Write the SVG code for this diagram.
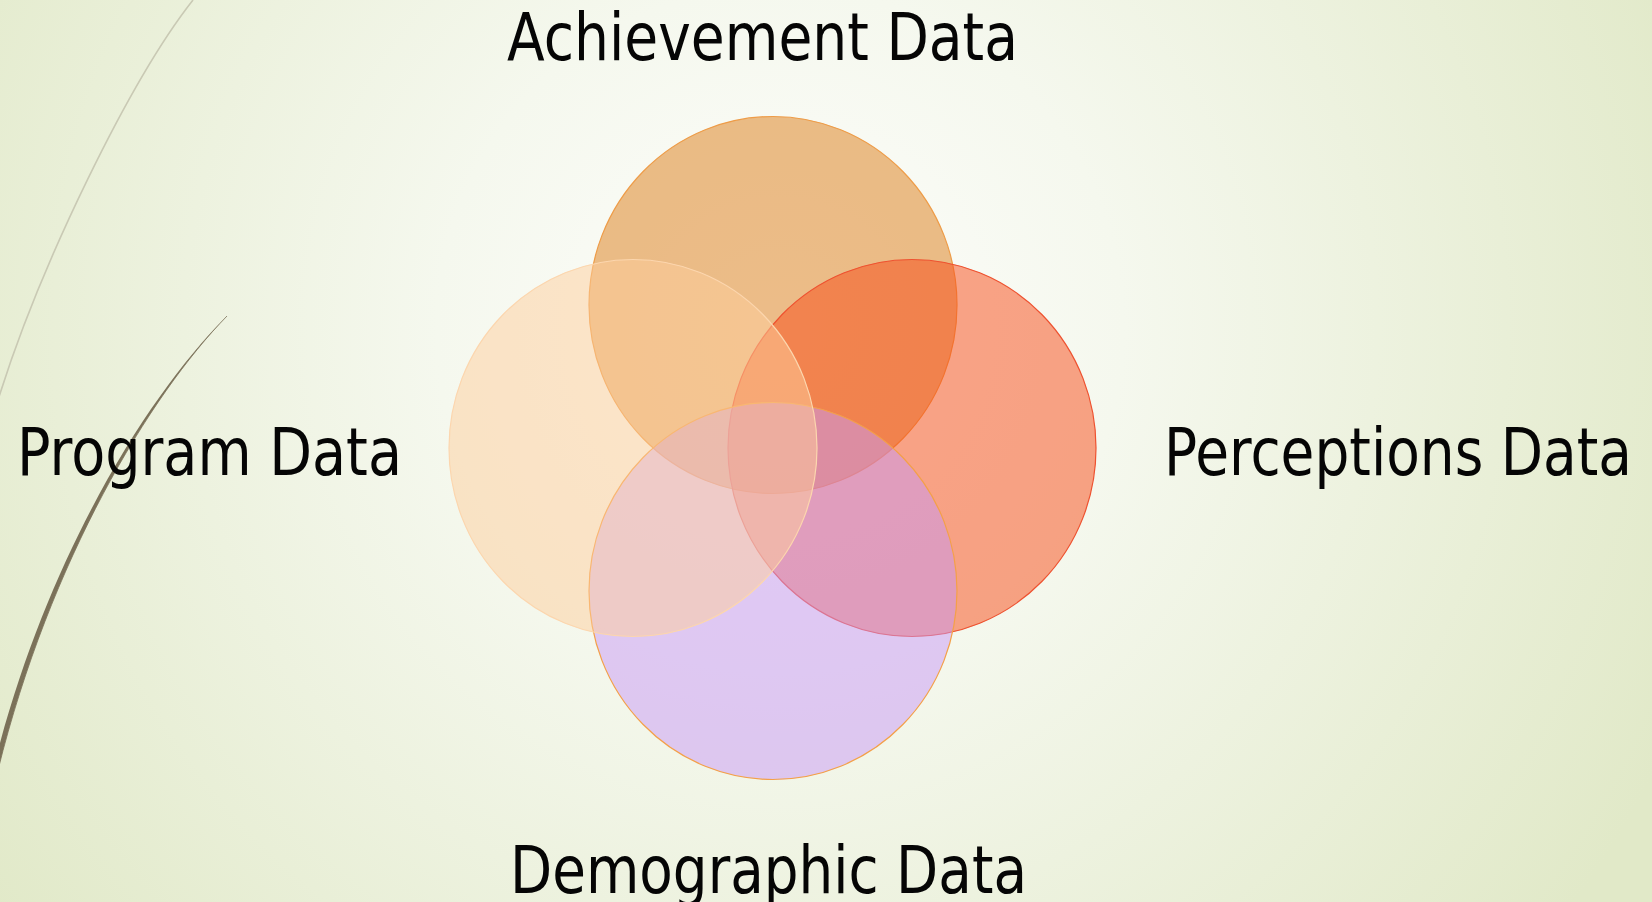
<svg xmlns="http://www.w3.org/2000/svg" width="1652" height="902" viewBox="0 0 1652 902">
  <defs>
    <radialGradient id="bg" cx="780" cy="330" r="980" gradientUnits="userSpaceOnUse">
      <stop offset="0" stop-color="#fdfdfb"/>
      <stop offset="0.35" stop-color="#f5f8ee"/>
      <stop offset="1" stop-color="#e1e9c8"/>
    </radialGradient>
    <style>
      .set { stroke-width: 1.2; }
      .label { font-family: 'DejaVu Sans', Verdana, sans-serif; font-size: 66px; fill: #050505; }
    </style>
  </defs>

  <!-- backdrop -->
  <rect x="0" y="0" width="1652" height="902" fill="url(#bg)"/>

  <!-- decorative sweeping lines on the left -->
  <g id="decor">
    <path d="M193,0 C130,80 40,265 -2,400" fill="none" stroke="#c9c9b4" stroke-width="1.6"/>
    <path d="M227,316 C150,395 50,560 -2,770 L-7,770 C45,559 148,394 227,316 Z" fill="#7b7159"/>
    <path d="M227,316 C150,395 50,560 -2,770" fill="none" stroke="#7b7159" stroke-width="0.8"/>
  </g>

  <!-- four overlapping sets -->
  <g id="achievement">
    <ellipse class="set" cx="773" cy="305" rx="184" ry="188.5" fill="#dc7c16" fill-opacity="0.5" stroke="#ee9c48"/>
  </g>
  <g id="perceptions">
    <ellipse class="set" cx="912" cy="448" rx="184" ry="188.5" fill="#f84a16" fill-opacity="0.5" stroke="#ee5230"/>
  </g>
  <g id="demographic">
    <ellipse class="set" cx="773" cy="591" rx="184" ry="188.5" fill="#c898f6" fill-opacity="0.5" stroke="#f4a048"/>
  </g>
  <g id="program">
    <ellipse class="set" cx="633" cy="448" rx="184" ry="188.5" fill="#fece9c" fill-opacity="0.5" stroke="#fcd6ae"/>
  </g>

  <!-- connectors: none in this diagram -->
  <g id="connectors"/>

  <!-- labels -->
  <g id="labels">
    <text class="label" x="507" y="60" textLength="511" lengthAdjust="spacingAndGlyphs">Achievement Data</text>
    <text class="label" x="17" y="475" textLength="385" lengthAdjust="spacingAndGlyphs">Program Data</text>
    <text class="label" x="1164" y="475" textLength="468" lengthAdjust="spacingAndGlyphs">Perceptions Data</text>
    <text class="label" x="510" y="893" textLength="517" lengthAdjust="spacingAndGlyphs">Demographic Data</text>
  </g>
</svg>
